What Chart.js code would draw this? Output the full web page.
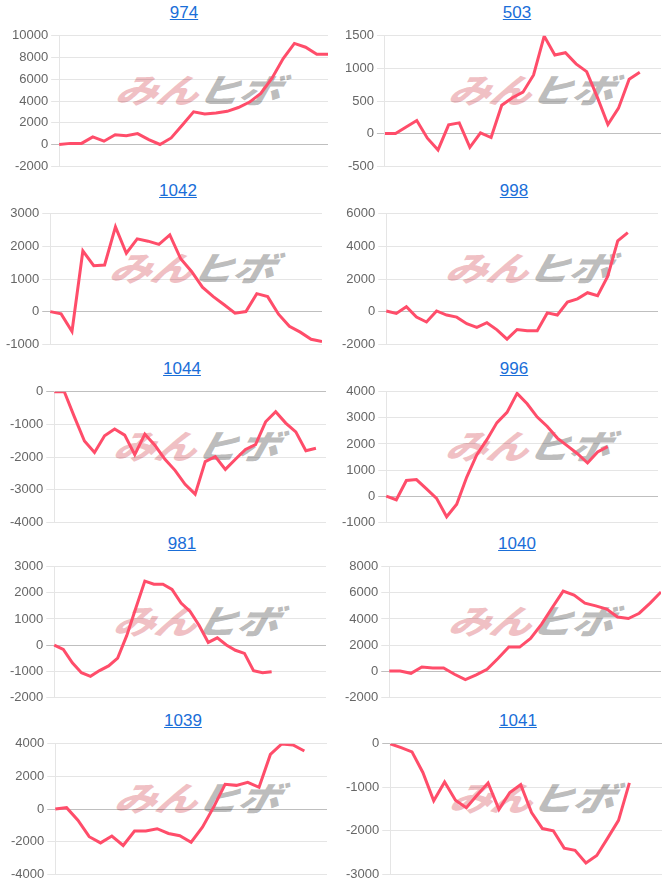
<!DOCTYPE html>
<html>
<head>
<meta charset="utf-8">
<script src="https://cdn.jsdelivr.net/npm/chart.js@4.4.1/dist/chart.umd.min.js"></script>
<style>
  html, body { margin: 0; padding: 0; background: #fff; }
  body { width: 666px; height: 884px; overflow: hidden; position: relative;
         font-family: "Liberation Sans", Arial, sans-serif; }
  .cell { position: absolute; width: 346px; height: 177px; }
  .cell .title { position: absolute; left: 2px; top: 3px; width: 346px; text-align: center; }
  .cell .title a { color: #1a6ed8; font-size: 17px; text-decoration: underline; }
  .cell canvas { position: absolute; left: 0; top: 25px; z-index: 1; }
  .mark { position: absolute; top: 68px; left: 108px; white-space: nowrap; z-index: 0;
          font-family: "Noto Sans CJK JP", sans-serif; font-weight: 900; font-style: italic;
          font-size: 42px; line-height: 42px; letter-spacing: -1px;
          transform: skewX(-14deg) scaleY(0.8); transform-origin: left center; }
  .mark .a { color: rgba(225, 130, 138, 0.5); }
  .mark .b { color: rgba(150, 150, 150, 0.65); }
</style>
</head>
<body>
<script>
// ---- data ----
const titles = ['974', '503', '1042', '998', '1044', '996', '981', '1040', '1039', '1041'];

// number of x slots per chart (x labels are not shown)
const labelCounts = [25, 27, 26, 28, 28, 28, 31, 26, 25, 26];

const data974  = [0, 100, 100, 700, 300, 900, 800, 1000, 450, 0, 600, 1800, 3000, 2800, 2900, 3050, 3400, 3900, 4700, 6100, 7900, 9300, 8950, 8300, 8300];
const data503  = [0, 0, 100, 200, -70, -250, 135, 165, -210, 10, -60, 435, 550, 635, 900, 1495, 1205, 1240, 1070, 950, 560, 140, 390, 835, 940];
const data1042 = [0, -70, -610, 1860, 1410, 1430, 2600, 1790, 2230, 2160, 2060, 2350, 1620, 1230, 750, 460, 210, -50, 0, 550, 460, -80, -450, -630, -850, -920];
const data998  = [40, -110, 300, -340, -640, 40, -210, -340, -740, -970, -680, -1120, -1690, -1100, -1180, -1180, -80, -210, 590, 780, 1160, 970, 2160, 4340, 4850];
const data1044 = [0, 0, -770, -1510, -1860, -1350, -1140, -1330, -1930, -1300, -1640, -2070, -2410, -2840, -3140, -2140, -1990, -2380, -2070, -1770, -1620, -920, -610, -960, -1230, -1810, -1730];
const data996  = [0, -140, 600, 635, 275, -85, -790, -310, 730, 1590, 2165, 2820, 3210, 3940, 3540, 3030, 2670, 2225, 1925, 1625, 1270, 1690, 1900];
const data981  = [0, -170, -680, -1060, -1200, -980, -800, -500, 360, 1410, 2450, 2330, 2330, 2130, 1610, 1290, 750, 100, 275, 0, -200, -320, -980, -1060, -1020];
const data1040 = [0, 0, -170, 315, 240, 240, -240, -655, -290, 145, 970, 1845, 1845, 2500, 3590, 4880, 6140, 5825, 5215, 5000, 4760, 4150, 4030, 4440, 5215, 6070];
const data1039 = [0, 80, -690, -1700, -2080, -1660, -2240, -1350, -1350, -1210, -1500, -1640, -2040, -1120, 130, 1520, 1450, 1640, 1330, 3350, 3990, 3930, 3560];
const data1041 = [0, -90, -185, -660, -1310, -880, -1300, -1470, -1180, -900, -1510, -1120, -940, -1580, -1950, -2000, -2400, -2450, -2740, -2570, -2170, -1760, -900];

const series = [data974, data503, data1042, data998, data1044, data996, data981, data1040, data1039, data1041];

// y axis ranges and tick steps
const yMin  = [-2000, -500, -1000, -2000, -4000, -1000, -2000, -2000, -4000, -3000];
const yMax  = [10000, 1500, 3000, 6000, 0, 4000, 3000, 8000, 4000, 0];
const yStep = [2000, 500, 1000, 2000, 1000, 1000, 1000, 2000, 2000, 1000];

// ---- layout ----
const rowTops = [0, 178, 356, 531, 708];
const cellLeft = [9, 9, 3, 6, 7, 6, 7, 9, 8, 10];   // offset inside each column
const LINE = 'rgb(255, 77, 106)';

Chart.defaults.font.family = '"Liberation Sans", Arial, sans-serif';
Chart.defaults.font.size = 13;
Chart.defaults.color = '#666';

titles.forEach((t, i) => {
  const col = i % 2, row = Math.floor(i / 2);
  const cell = document.createElement('div');
  cell.className = 'cell';
  cell.style.left = (col * 333 + cellLeft[i]) + 'px';
  cell.style.top = rowTops[row] + 'px';
  cell.innerHTML =
    `<div class="title"><a href="#">${t}</a></div>` +
    `<div class="mark"><span class="a">みん</span><span class="b">ヒボ</span></div>` +
    `<canvas width="319" height="152"></canvas>`;
  document.body.appendChild(cell);

  const labels = Array.from({ length: labelCounts[i] }, (_, k) => String(k + 1));

  new Chart(cell.querySelector('canvas'), {
    type: 'line',
    data: {
      labels: labels,
      datasets: [{
        data: series[i],
        borderColor: LINE,
        backgroundColor: LINE,
        borderWidth: 3,
        pointRadius: 0,
        tension: 0,
        fill: false
      }]
    },
    options: {
      responsive: false,
      animation: false,
      layout: { padding: 0 },
      plugins: { legend: { display: false }, tooltip: { enabled: false }, title: { display: false } },
      scales: {
        x: { display: false },
        y: {
          min: yMin[i],
          max: yMax[i],
          ticks: { stepSize: yStep[i], color: '#666', callback: v => String(v) },
          grid: {
            color: c => (c.tick && c.tick.value === 0) ? 'rgba(0,0,0,0.25)' : 'rgba(0,0,0,0.1)'
          },
          border: { color: 'rgba(0,0,0,0.1)' }
        }
      }
    }
  });
});
</script>
</body>
</html>
